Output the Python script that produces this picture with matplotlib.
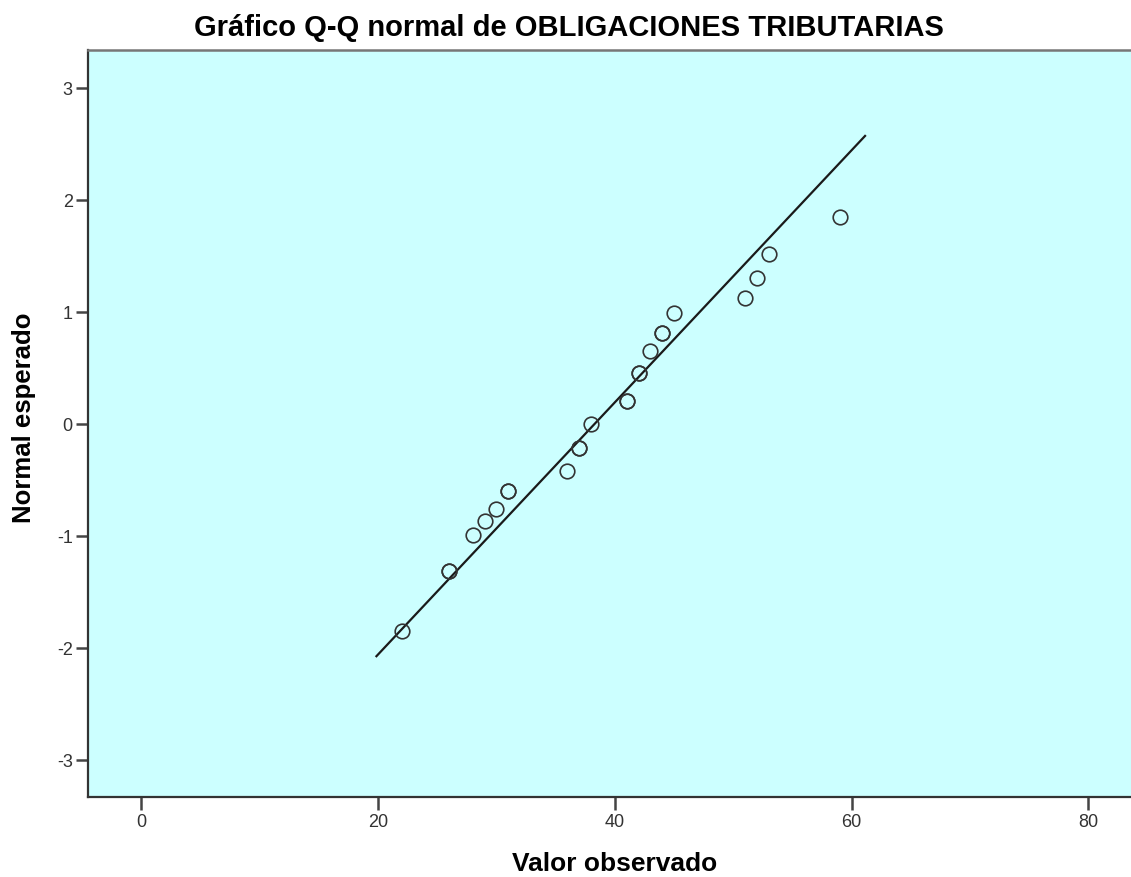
import matplotlib
matplotlib.use("Agg")
import matplotlib.pyplot as plt

# Observed values (duplicates = tied observations drawn on top of each other)
observed = [22, 26, 26, 28, 29, 30, 31, 31, 36, 37, 37, 38, 41, 41, 42, 42, 43, 44, 44, 45, 51, 52, 53, 59]
expected = [-1.85, -1.31, -1.31, -0.99, -0.87, -0.76, -0.60, -0.60, -0.42, -0.21, -0.21, 0.00,
            0.21, 0.21, 0.46, 0.46, 0.65, 0.81, 0.81, 0.99, 1.13, 1.30, 1.52, 1.85]

# Reference line endpoints (observed value, expected normal)
line_x = [19.8, 61.2]
line_y = [-2.08, 2.58]

x_ticks = [0, 20, 40, 60, 80]
y_ticks = [-3, -2, -1, 0, 1, 2, 3]

title = "Gráfico Q-Q normal de OBLIGACIONES TRIBUTARIAS"
xlabel = "Valor observado"
ylabel = "Normal esperado"

plt.rcParams['font.family'] = ['Liberation Sans', 'DejaVu Sans']

fig = plt.figure(figsize=(11.31, 8.77), dpi=100)
W, H = 1131, 877
ax = fig.add_axes([88 / W, (H - 797) / H, 1 - 88 / W, (797 - 50) / H])
ax.set_facecolor('#CCFFFF')

ax.plot(line_x, line_y, color='#1a1a1a', lw=1.6, solid_capstyle='butt')
ax.plot(observed, expected, linestyle='none', marker='o', markersize=10.5,
        markerfacecolor='none', markeredgecolor='#333333', markeredgewidth=1.2)

ax.set_xlim(-4.5, 83.6)
ax.set_ylim(-3.33, 3.34)
ax.set_xticks(x_ticks)
ax.set_yticks(y_ticks)
ax.set_xticklabels([str(v) for v in x_ticks])
ax.set_yticklabels([str(v) for v in y_ticks])
ax.tick_params(axis='both', direction='out', length=9, width=1.8, color='#444444',
               labelsize=13, labelcolor='#333333')
ax.tick_params(axis='x', pad=3)
ax.tick_params(axis='y', pad=2)

for s in ['left', 'bottom']:
    ax.spines[s].set_linewidth(1.6)
    ax.spines[s].set_color('#333333')
ax.spines['top'].set_linewidth(1.8)
ax.spines['top'].set_color('#777777')
ax.spines['right'].set_visible(False)

fig.text(569 / W, 1 - 28 / H, title, ha='center', va='center', fontsize=21, fontweight='bold')
fig.text(615 / W, 1 - 864 / H, xlabel, ha='center', va='center', fontsize=19, fontweight='bold')
fig.text(24 / W, 1 - 418 / H, ylabel, ha='center', va='center', fontsize=18.5, fontweight='bold',
         rotation=90)

fig.savefig('out.png', dpi=100)
